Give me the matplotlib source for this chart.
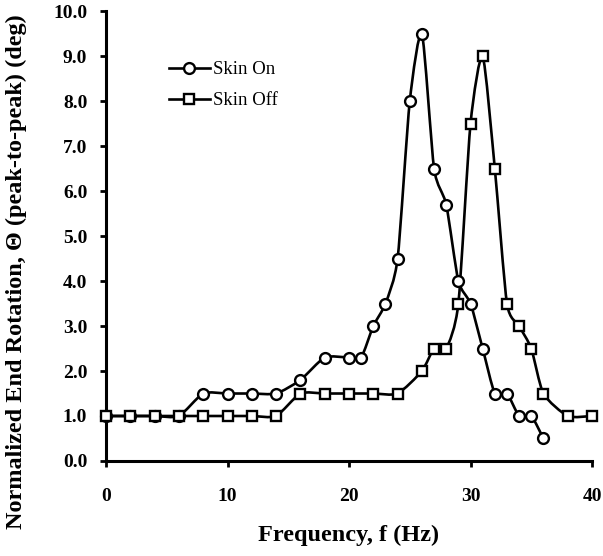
import numpy as np
import matplotlib
matplotlib.use('Agg')
import matplotlib.pyplot as plt
from matplotlib.path import Path
from matplotlib.patches import PathPatch
from matplotlib.lines import Line2D

plt.rcParams['font.family'] = ['Liberation Serif', 'DejaVu Serif']

freq_on = [0, 2, 4, 6, 8, 10, 12, 14, 16, 18, 20, 21, 22, 23, 24, 25, 26, 27, 28,
           29, 30, 31, 32, 33, 34, 35, 36]
rot_on = [1.0, 1.0, 1.0, 1.0, 1.5, 1.5, 1.5, 1.5, 1.8, 2.3, 2.3, 2.3, 3.0, 3.5, 4.5,
          8.0, 9.5, 6.5, 5.7, 4.0, 3.5, 2.5, 1.5, 1.5, 1.0, 1.0, 0.5]
freq_off = [0, 2, 4, 6, 8, 10, 12, 14, 16, 18, 20, 22, 24, 26, 27, 28, 29, 30, 31,
            32, 33, 34, 35, 36, 38, 40]
rot_off = [1.0, 1.0, 1.0, 1.0, 1.0, 1.0, 1.0, 1.0, 1.5, 1.5, 1.5, 1.5, 1.5, 2.0, 2.5,
           2.5, 3.5, 7.5, 9.0, 6.5, 3.5, 3.0, 2.5, 1.5, 1.0, 1.0]
x_ticks = [0, 10, 20, 30, 40]
y_ticks = [0, 1, 2, 3, 4, 5, 6, 7, 8, 9, 10]


def smooth_path(x, y, k=0.11):
    # spreadsheet-style smoothed line (cardinal spline as Bezier segments)
    pts = np.column_stack([x, y]).astype(float)
    ext = np.vstack([pts[0], pts, pts[-1]])
    verts = [pts[0]]
    codes = [Path.MOVETO]
    for i in range(len(pts) - 1):
        p0, p1, p2, p3 = ext[i], ext[i + 1], ext[i + 2], ext[i + 3]
        verts += [p1 + (p2 - p0) * k, p2 - (p3 - p1) * k, p2]
        codes += [Path.CURVE4] * 3
    return Path(verts, codes)


fig = plt.figure(figsize=(6.03, 5.56), dpi=100)
ax = fig.add_axes([0.1758, 0.1709, 0.806, 0.809])

lw = 1.9
for xs, ys, mk in [(freq_on, rot_on, 'o'), (freq_off, rot_off, 's')]:
    ax.add_patch(PathPatch(smooth_path(xs, ys), fill=False, lw=lw,
                           edgecolor='black', zorder=2, clip_on=False))
    ax.plot(xs, ys, linestyle='none', marker=mk, markersize=7.8 if mk == 'o' else 7.2,
            markerfacecolor='white', markeredgecolor='black', markeredgewidth=1.7,
            zorder=3, clip_on=False)

handles = [
    Line2D([], [], color='black', lw=lw, marker='o', markersize=7.8,
           markerfacecolor='white', markeredgewidth=1.7),
    Line2D([], [], color='black', lw=lw, marker='s', markersize=7.2,
           markerfacecolor='white', markeredgewidth=1.7),
]
ax.legend(handles, ['Skin On', 'Skin Off'], loc='upper left',
          bbox_to_anchor=(0.11, 0.91), frameon=False, fontsize=13.5,
          handlelength=2.2, handletextpad=0.15, labelspacing=0.75, borderpad=0)

ax.set_xlim(0, 40)
ax.set_ylim(0, 10)
ax.set_xticks(x_ticks)
ax.set_yticks(y_ticks)
ax.set_xticklabels([str(t) for t in x_ticks], fontsize=14, fontweight='bold')
ax.set_yticklabels(['%.1f' % t for t in y_ticks], fontsize=14, fontweight='bold')
ax.tick_params(direction='out', length=4.5, width=2, pad=9)
ax.tick_params(axis='x', pad=15)

for side in ['top', 'right']:
    ax.spines[side].set_visible(False)
for side in ['left', 'bottom']:
    ax.spines[side].set_linewidth(2.2)

ax.set_xlabel('Frequency, f (Hz)', fontsize=17.5, fontweight='bold', labelpad=14)
ax.set_ylabel('Normalized End Rotation, \u0398 (peak-to-peak) (deg)', fontsize=17.5,
              fontweight='bold')
ax.yaxis.set_label_coords(-0.162, 0.42)

fig.savefig('out.png', dpi=100)
